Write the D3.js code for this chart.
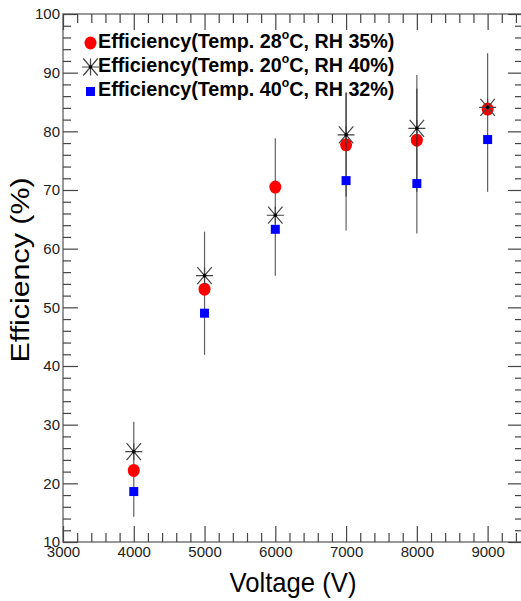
<!DOCTYPE html>
<html>
<head>
<meta charset="utf-8">
<script src="https://cdn.jsdelivr.net/npm/d3@7"></script>
<style>
  body { margin: 0; background: #fff; }
  svg { display: block; }
  .tick text { font-family: "Liberation Sans", Arial, sans-serif; font-size: 15px; fill: #222; }
</style>
</head>
<body>
<svg width="521" height="601"></svg>
<script>
// values
var voltage = [4000, 5000, 6000, 7000, 8000, 9000];
var eff28 = [22.2, 53.1, 70.5, 77.7, 78.5, 83.8];
var eff20 = [25.4, 55.4, 65.7, 79.4, 80.5, 84.1];
var eff40 = [18.6, 49.0, 63.3, 71.6, 71.1, 78.6];
var err28Low = [14.3, 41.9, 55.4, 63.1, 62.6, 69.7];
var err28High = [30.5, 62.9, 78.8, 86.6, 89.6, 93.3];
var err20Low = [null, null, null, 68.9, 69.7, null];
var err20High = [null, null, null, 86.6, 87.3, null];

var xMajor = [3000, 4000, 5000, 6000, 7000, 8000, 9000];
var yMajor = [10, 20, 30, 40, 50, 60, 70, 80, 90, 100];
var legendLabels = [
  ["Efficiency(Temp. 28", "C, RH 35%)"],
  ["Efficiency(Temp. 20", "C, RH 40%)"],
  ["Efficiency(Temp. 40", "C, RH 32%)"]
];

var svg = d3.select("svg");
var padL = 63, padR = 523, padT = 14, padB = 542;

var x = d3.scaleLinear().domain([3000, 9500]).range([padL, padR]);
var y = d3.scaleLinear().domain([10, 100]).range([padB, padT]);

var xMinor = d3.range(3000, 9501, 200).filter(function(v) { return v % 1000 !== 0; });
var yMinor = d3.range(10, 100.1, 2).filter(function(v) { return v % 10 !== 0; });

// frame
svg.append("rect")
    .attr("x", padL).attr("y", padT)
    .attr("width", padR - padL).attr("height", padB - padT)
    .style("fill", "none").style("stroke", "#777").style("stroke-width", 1.5);

function styleAxis(g) {
  g.select(".domain").remove();
  g.selectAll(".tick line").style("stroke", "#444").style("stroke-width", 1.2);
}

// bottom + top
svg.append("g").attr("transform", "translate(0," + padB + ")")
    .call(d3.axisBottom(x).tickValues(xMajor).tickSize(-16).tickPadding(4).tickFormat(d3.format("d")))
    .call(styleAxis);
svg.append("g").attr("transform", "translate(0," + padB + ")")
    .call(d3.axisBottom(x).tickValues(xMinor).tickSize(-9).tickFormat(""))
    .call(styleAxis);
svg.append("g").attr("transform", "translate(0," + padT + ")")
    .call(d3.axisTop(x).tickValues(xMajor).tickSize(-16).tickFormat(""))
    .call(styleAxis);
svg.append("g").attr("transform", "translate(0," + padT + ")")
    .call(d3.axisTop(x).tickValues(xMinor).tickSize(-9).tickFormat(""))
    .call(styleAxis);

// left + right
svg.append("g").attr("transform", "translate(" + padL + ",0)")
    .call(d3.axisLeft(y).tickValues(yMajor).tickSize(-15).tickPadding(3))
    .call(styleAxis);
svg.append("g").attr("transform", "translate(" + padL + ",0)")
    .call(d3.axisLeft(y).tickValues(yMinor).tickSize(-8).tickFormat(""))
    .call(styleAxis);
svg.append("g").attr("transform", "translate(" + padR + ",0)")
    .call(d3.axisRight(y).tickValues(yMajor).tickSize(-15).tickFormat(""))
    .call(styleAxis);
svg.append("g").attr("transform", "translate(" + padR + ",0)")
    .call(d3.axisRight(y).tickValues(yMinor).tickSize(-8).tickFormat(""))
    .call(styleAxis);

// axis titles
svg.append("text")
    .attr("x", 293).attr("y", 592)
    .attr("text-anchor", "middle")
    .style("font-family", "Liberation Sans, Arial, sans-serif")
    .style("font-size", "27px")
    .attr("transform", "translate(293,0) scale(0.95,1) translate(-293,0)")
    .text("Voltage (V)");
svg.append("text")
    .attr("transform", "translate(29,270) rotate(-90)")
    .attr("text-anchor", "middle")
    .attr("textLength", 185)
    .attr("lengthAdjust", "spacingAndGlyphs")
    .style("font-family", "Liberation Sans, Arial, sans-serif")
    .style("font-size", "26px")
    .text("Efficiency (%)");

// error bars
function errBars(lo, hi) {
  svg.append("g").selectAll("line")
      .data(voltage.map(function(v, i) { return { v: v, lo: lo[i], hi: hi[i] }; })
        .filter(function(d) { return d.lo !== null; }))
      .enter().append("line")
      .attr("x1", function(d) { return x(d.v); })
      .attr("x2", function(d) { return x(d.v); })
      .attr("y1", function(d) { return y(d.lo); })
      .attr("y2", function(d) { return y(d.hi); })
      .style("stroke", "#222").style("stroke-opacity", 0.72).style("stroke-width", 1.2);
}

function starPath(s) {
  var d = s * 0.85;
  return "M" + (-s) + ",0L" + s + ",0M0," + (-s) + "L0," + s +
         "M" + (-d) + "," + (-s) + "L" + d + "," + s +
         "M" + (-d) + "," + s + "L" + d + "," + (-s);
}

function circles(g, data) {
  g.selectAll(".c").data(data).enter().append("ellipse")
      .attr("cx", function(d) { return d[0]; })
      .attr("cy", function(d) { return d[1]; })
      .attr("rx", 6).attr("ry", 6.5)
      .style("fill", "#ff0000");
}
function squares(g, data) {
  g.selectAll(".s").data(data).enter().append("rect")
      .attr("x", function(d) { return d[0] - 4.5; })
      .attr("y", function(d) { return d[1] - 4.5; })
      .attr("width", 9).attr("height", 9)
      .style("fill", "#0000ff");
}
function stars(g, data) {
  var s = g.selectAll(".a").data(data).enter().append("g")
      .attr("transform", function(d) { return "translate(" + d[0] + "," + d[1] + ")"; });
  s.append("path").attr("d", starPath(8.5))
      .style("fill", "none").style("stroke", "#444").style("stroke-width", 1.2);
  s.append("circle").attr("r", 1.8).style("fill", "#000");
}

function pts(vals) {
  return voltage.map(function(v, i) { return [x(v), y(vals[i])]; });
}

errBars(err28Low, err28High);
circles(svg.append("g"), pts(eff28));
errBars(err20Low, err20High);
squares(svg.append("g"), pts(eff40));
stars(svg.append("g"), pts(eff20));

// legend
var legend = svg.append("g");
circles(legend, [[90.5, 43]]);
stars(legend, [[90.5, 67]]);
squares(legend, [[90.5, 91.5]]);

legendLabels.forEach(function(lab, i) {
  var by = 48 + i * 24;
  var t = legend.append("text")
      .attr("transform", "translate(98," + by + ") scale(0.94,1)")
      .style("font-family", "Liberation Sans, Arial, sans-serif")
      .style("font-weight", "bold")
      .style("font-size", "21px")
      .style("fill", "#000");
  t.append("tspan").text(lab[0]);
  t.append("tspan").attr("dy", -9).style("font-size", "13px").text("o");
  t.append("tspan").attr("dy", 9).text(lab[1]);
});
</script>
</body>
</html>
